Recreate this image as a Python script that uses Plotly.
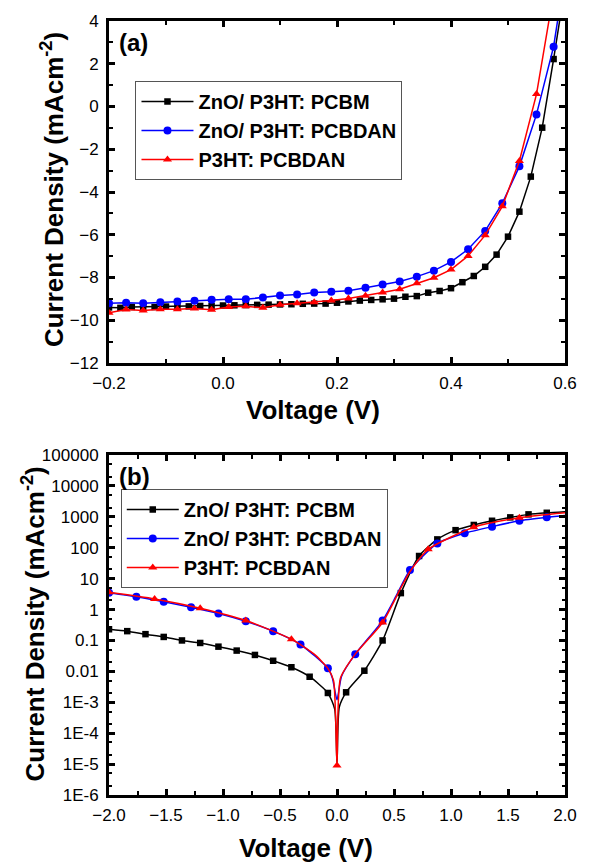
import plotly.graph_objects as go

# ---------------- (a) J-V under illumination ----------------
# ZnO/ P3HT: PCBM  (0.02 V steps)
a_pcbm_v = [-0.20, -0.18, -0.16, -0.14, -0.12, -0.10, -0.08, -0.06, -0.04, -0.02,
            0.00, 0.02, 0.04, 0.06, 0.08, 0.10, 0.12, 0.14, 0.16, 0.18,
            0.20, 0.22, 0.24, 0.26, 0.28, 0.30, 0.32, 0.34, 0.36, 0.38,
            0.40, 0.42, 0.44, 0.46, 0.48, 0.50, 0.52, 0.54, 0.56, 0.58, 0.60]
a_pcbm_j = [-9.40, -9.42, -9.38, -9.37, -9.38, -9.36, -9.36, -9.35, -9.33, -9.34,
            -9.31, -9.30, -9.29, -9.28, -9.27, -9.26, -9.25, -9.23, -9.22, -9.22,
            -9.18, -9.12, -9.08, -9.05, -9.02, -8.99, -8.90, -8.87, -8.71, -8.63,
            -8.50, -8.22, -7.93, -7.50, -6.93, -6.09, -4.92, -3.28, -0.99, 2.22, 5.60]

# ZnO/ P3HT: PCBDAN  (0.03 V steps)
a_zno_dan_v = [-0.20, -0.17, -0.14, -0.11, -0.08, -0.05, -0.02, 0.01, 0.04, 0.07,
               0.10, 0.13, 0.16, 0.19, 0.22, 0.25, 0.28, 0.31, 0.34, 0.37,
               0.40, 0.43, 0.46, 0.49, 0.52, 0.55, 0.58, 0.61]
a_zno_dan_j = [-9.21, -9.18, -9.20, -9.16, -9.12, -9.09, -9.04, -9.02, -9.02, -8.93,
               -8.84, -8.80, -8.70, -8.67, -8.62, -8.48, -8.33, -8.19, -7.96, -7.68,
               -7.27, -6.68, -5.82, -4.53, -2.80, -0.37, 2.80, 8.00]

# P3HT: PCBDAN  (0.03 V steps)
a_dan_v = [-0.20, -0.17, -0.14, -0.11, -0.08, -0.05, -0.02, 0.01, 0.04, 0.07,
           0.10, 0.13, 0.16, 0.19, 0.22, 0.25, 0.28, 0.31, 0.34, 0.37,
           0.40, 0.43, 0.46, 0.49, 0.52, 0.55, 0.58]
a_dan_j = [-9.65, -9.50, -9.54, -9.49, -9.48, -9.45, -9.51, -9.38, -9.35, -9.42,
           -9.27, -9.21, -9.16, -9.08, -8.98, -8.85, -8.70, -8.55, -8.27, -8.01,
           -7.63, -6.99, -6.02, -4.67, -2.55, 0.58, 5.30]

# ---------------- (b) dark J-V, log scale ----------------
# points carrying a symbol
b_pcbm_v = [-2.00, -1.84, -1.68, -1.52, -1.36, -1.20, -1.04, -0.88, -0.72, -0.56,
            -0.40, -0.24, -0.08, 0.08, 0.24, 0.40, 0.56, 0.72, 0.88, 1.04,
            1.20, 1.36, 1.52, 1.68, 1.84]
b_pcbm_j = [0.23, 0.20, 0.16, 0.13, 0.10, 0.083, 0.063, 0.047, 0.034, 0.022,
            0.0136, 0.0067, 0.0020, 0.0021, 0.0105, 0.10, 3.4, 54, 186, 370,
            545, 745, 960, 1200, 1350]
# extra points along the curve (no symbol)
b_pcbm_curve_v = [-0.02, 0.00, 0.02, 2.00]
b_pcbm_curve_j = [0.0006, 0.00001, 0.0007, 1470]

b_zno_dan_v = [-2.00, -1.76, -1.52, -1.28, -1.04, -0.80, -0.56, -0.32, -0.08, 0.16,
               0.40, 0.64, 0.88, 1.12, 1.36, 1.60, 1.84]
b_zno_dan_j = [3.5, 2.6, 1.8, 1.18, 0.75, 0.42, 0.20, 0.074, 0.0126, 0.036,
               0.44, 19, 138, 295, 480, 750, 960]
b_zno_dan_curve_v = [-0.04, 0.00, 0.04, 0.52, 2.00]
b_zno_dan_curve_j = [0.006, 0.0012, 0.007, 2.8, 1100]

b_dan_v = [-2.0, -1.6, -1.2, -0.8, -0.4, 0.0, 0.4, 0.8, 1.2, 1.6]
b_dan_j = [3.6, 2.2, 1.1, 0.44, 0.11, 0.000009, 0.38, 89, 460, 930]
b_dan_curve_v = [-0.20, -0.08, -0.03, 0.03, 0.16, 0.56, 0.64, 2.0]
b_dan_curve_j = [0.036, 0.0125, 0.005, 0.006, 0.036, 5.0, 17, 1350]

names = ["ZnO/ P3HT: PCBM", "ZnO/ P3HT: PCBDAN", "P3HT: PCBDAN"]
log_tickvals = [1e-6, 1e-5, 1e-4, 1e-3, 1e-2, 1e-1, 1, 10, 100, 1000, 10000, 100000]
log_ticktext = ["1E-6", "1E-5", "1E-4", "1E-3", "0.01", "0.1", "1", "10", "100",
                "1000", "10000", "100000"]

BLACK, BLUE, RED = "#000000", "#0000FF", "#FF0000"
TICK_FONT = dict(family="Liberation Sans, Arial, sans-serif", size=17, color="black")
BOLD = "Liberation Sans, Arial, sans-serif"

# page geometry (pixels) of the two plotting areas
W, H = 589, 862
L, R, T, B = 109, 15, 21, 67
TOP_BOTTOM_PX, BOT_TOP_PX = 363, 455


def px_to_paper(xp, yp):
    return (xp - L) / (W - L - R), (H - B - yp) / (H - T - B)


def merged(sym_v, sym_j, curve_v, curve_j, color):
    pts = [(v, j, True) for v, j in zip(sym_v, sym_j)]
    pts += [(v, j, False) for v, j in zip(curve_v, curve_j)]
    pts.sort(key=lambda p: p[0])
    xs = [p[0] for p in pts]
    ys = [p[1] for p in pts]
    cols = [color if p[2] else "rgba(0,0,0,0)" for p in pts]
    return xs, ys, cols


fig = go.Figure()

# panel (a)
for v, j, name, col, sym, size in [
    (a_pcbm_v, a_pcbm_j, names[0], BLACK, "square", 6.5),
    (a_zno_dan_v, a_zno_dan_j, names[1], BLUE, "circle", 8),
    (a_dan_v, a_dan_j, names[2], RED, "triangle-up", 8),
]:
    fig.add_trace(go.Scatter(
        x=v, y=j, name=name, mode="lines+markers", xaxis="x", yaxis="y",
        line=dict(color=col, width=1.5),
        marker=dict(symbol=sym, size=size, color=col, line=dict(width=0)),
        legend="legend",
    ))

# panel (b)
for sv, sj, cv, cj, name, col, sym, size in [
    (b_pcbm_v, b_pcbm_j, b_pcbm_curve_v, b_pcbm_curve_j, names[0], BLACK, "square", 6.5),
    (b_zno_dan_v, b_zno_dan_j, b_zno_dan_curve_v, b_zno_dan_curve_j, names[1], BLUE, "circle", 8),
    (b_dan_v, b_dan_j, b_dan_curve_v, b_dan_curve_j, names[2], RED, "triangle-up", 8),
]:
    xs, ys, cols = merged(sv, sj, cv, cj, col)
    fig.add_trace(go.Scatter(
        x=xs, y=ys, name=name, mode="lines+markers", xaxis="x2", yaxis="y2",
        line=dict(color=col, width=1.5, shape="spline", smoothing=0.6),
        marker=dict(symbol=sym, size=size, color=cols, line=dict(width=0)),
        legend="legend2",
    ))

_, top_frac = px_to_paper(0, TOP_BOTTOM_PX)
_, bot_frac = px_to_paper(0, BOT_TOP_PX)

frame = dict(showline=True, linecolor="black", linewidth=3, mirror="allticks",
             showgrid=False, zeroline=False, ticks="inside", ticklen=6,
             tickwidth=2.5, tickcolor="black", tickfont=TICK_FONT)
minor = dict(ticks="inside", ticklen=4, tickwidth=2, tickcolor="black", showgrid=False)
legend_font = dict(family=BOLD, size=20, color="black", weight="bold")

fig.update_layout(
    width=W, height=H,
    margin=dict(l=L, r=R, t=T, b=B),
    paper_bgcolor="white", plot_bgcolor="white",
    font=dict(family=BOLD, color="black"),
    xaxis=dict(frame, domain=[0, 1], anchor="y", range=[-0.2, 0.6], dtick=0.2,
               tick0=0, tickformat=".1f", minor=dict(minor, dtick=0.1),
               ticklabelstandoff=3),
    yaxis=dict(frame, domain=[top_frac, 1], anchor="x", range=[-12, 4], dtick=2,
               minor=dict(minor, dtick=1), ticklabelstandoff=4),
    xaxis2=dict(frame, domain=[0, 1], anchor="y2", range=[-2, 2], dtick=0.5,
                tick0=0, tickformat=".1f", minor=dict(minor, dtick=0.25),
                ticklabelstandoff=3),
    yaxis2=dict(frame, domain=[0, bot_frac], anchor="x2", type="log",
                range=[-6, 5], tickvals=log_tickvals, ticktext=log_ticktext,
                minor=dict(minor, ticklen=3, tickwidth=1.5), ticklabelstandoff=4),
    legend=dict(x=px_to_paper(136, 0)[0], y=px_to_paper(0, 81)[1],
                xanchor="left", yanchor="top", bgcolor="white",
                bordercolor="#555555", borderwidth=1, itemwidth=52,
                font=legend_font),
    legend2=dict(x=px_to_paper(121, 0)[0], y=px_to_paper(0, 489)[1],
                 xanchor="left", yanchor="top", bgcolor="white",
                 bordercolor="#555555", borderwidth=1, itemwidth=52,
                 font=legend_font),
    showlegend=True,
)

title_font = dict(family=BOLD, size=26, color="black", weight="bold")
annos = [
    # axis titles
    (317, 410, "Voltage (V)", 0),
    (310, 848, "Voltage (V)", 0),
    (52, 190, "Current Density (mAcm<sup>-2</sup>)", -90),
    (32, 624, "Current Density (mAcm<sup>-2</sup>)", -90),
]
for xp, yp, text, ang in annos:
    xf, yf = px_to_paper(xp, yp)
    fig.add_annotation(x=xf, y=yf, xref="paper", yref="paper", text=text,
                       showarrow=False, textangle=ang, font=title_font,
                       xanchor="center", yanchor="middle")

for xp, yp, text in [(117, 43, "(a)"), (117, 477, "(b)")]:
    xf, yf = px_to_paper(xp, yp)
    fig.add_annotation(x=xf, y=yf, xref="paper", yref="paper", text=text,
                       showarrow=False, xanchor="left", yanchor="middle",
                       font=dict(family=BOLD, size=24, color="black", weight="bold"))

fig.write_html("out.html")
